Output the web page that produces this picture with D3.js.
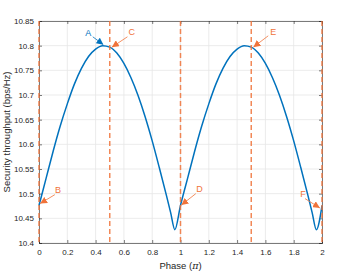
<!DOCTYPE html>
<meta charset="utf-8">
<style>
body { margin: 0; background: #fff; }
text { font-family: "Liberation Sans", Arial, sans-serif; fill: #262626; }
.grid line { stroke: #e6e6e6; stroke-width: 0.8px; }
</style>
<svg width="357" height="274"></svg>
<script src="https://d3js.org/d3.v7.min.js"></script>
<script>

// phase (in units of pi) and throughput
var phase = [0, 0.05, 0.10, 0.15, 0.20, 0.25, 0.30, 0.35, 0.40, 0.45, 0.50, 0.55, 0.60, 0.65, 0.70, 0.75, 0.80, 0.85, 0.90, 0.93, 0.96,
             1.00, 1.05, 1.10, 1.15, 1.20, 1.25, 1.30, 1.35, 1.40, 1.45, 1.50, 1.55, 1.60, 1.65, 1.70, 1.75, 1.80, 1.85, 1.90, 1.93, 1.96, 2.00];
var throughput = [10.476, 10.531, 10.586, 10.637, 10.682, 10.722, 10.754, 10.778, 10.793, 10.800, 10.797, 10.785, 10.764, 10.735, 10.699, 10.656, 10.607, 10.553, 10.497, 10.462, 10.427,
                  10.476, 10.531, 10.586, 10.637, 10.682, 10.722, 10.754, 10.778, 10.793, 10.800, 10.797, 10.785, 10.764, 10.735, 10.699, 10.656, 10.607, 10.553, 10.497, 10.462, 10.427, 10.476];

var markers = [0, 0.5, 1, 1.5, 2];
var xTicks = [0, 0.2, 0.4, 0.6, 0.8, 1, 1.2, 1.4, 1.6, 1.8, 2];
var yTicks = [10.4, 10.45, 10.5, 10.55, 10.6, 10.65, 10.7, 10.75, 10.8, 10.85];

// annotation labels: [label, colour, text x, text y, from x, from y, to x, to y] in data units
var notes = [
  ["A", "blue",   0.348, 10.826, 0.38, 10.818, 0.455, 10.802],
  ["C", "orange", 0.655, 10.827, 0.625, 10.818, 0.515, 10.797],
  ["E", "orange", 1.655, 10.827, 1.620, 10.820, 1.515, 10.797],
  ["B", "orange", 0.135, 10.508, 0.112, 10.498, 0.008, 10.480],
  ["D", "orange", 1.135, 10.510, 1.108, 10.500, 1.006, 10.477],
  ["F", "orange", 1.865, 10.500, 1.880, 10.490, 1.985, 10.471]
];

var svg = d3.select("svg"),
    margin = {top: 21, right: 35, bottom: 31, left: 39},
    width = 357 - margin.left - margin.right,
    height = 274 - margin.top - margin.bottom;

var x = d3.scaleLinear().domain([0, 2]).range([0, width]);
var y = d3.scaleLinear().domain([10.4, 10.85]).range([height, 0]);

var g = svg.append("g").attr("transform", "translate(" + margin.left + "," + margin.top + ")");

var defs = svg.append("defs");
[["blue", "#0072bd"], ["orange", "#f0733a"]].forEach(function(c) {
  defs.append("marker")
      .attr("id", "head-" + c[0])
      .attr("viewBox", "0 0 10 10")
      .attr("refX", 10).attr("refY", 5)
      .attr("markerWidth", 7).attr("markerHeight", 7)
      .attr("markerUnits", "userSpaceOnUse")
      .attr("orient", "auto")
    .append("path")
      .attr("d", "M0,0L10,5L0,10z")
      .style("fill", c[1]);
});

// grid
g.append("g").attr("class", "grid")
  .selectAll("line").data(xTicks).enter().append("line")
    .attr("x1", x).attr("x2", x).attr("y1", 0).attr("y2", height);
g.append("g").attr("class", "grid")
  .selectAll("line").data(yTicks).enter().append("line")
    .attr("y1", y).attr("y2", y).attr("x1", 0).attr("x2", width);

// axes
g.append("g").attr("transform", "translate(0," + height + ")")
    .call(d3.axisBottom(x).tickValues(xTicks).tickSize(-3).tickPadding(6).tickFormat(d3.format("")));
g.append("g")
    .call(d3.axisLeft(y).tickValues(yTicks).tickSize(-3).tickPadding(5).tickFormat(d3.format("")));
g.append("g")
    .call(d3.axisTop(x).tickValues(xTicks).tickSize(-3).tickFormat(""));
g.append("g").attr("transform", "translate(" + width + ",0)")
    .call(d3.axisRight(y).tickValues(yTicks).tickSize(-3).tickFormat(""));

g.selectAll(".domain").style("stroke", "#262626").style("stroke-width", 0.6);
g.selectAll(".tick line").style("stroke", "#262626").style("stroke-width", 0.6);
g.selectAll(".tick text").style("font-size", "8px").style("fill", "#262626");

// curve
var line = d3.line()
    .x(function(d, i) { return x(phase[i]); })
    .y(function(d) { return y(d); })
    .curve(d3.curveMonotoneX);

g.append("path")
    .datum(throughput)
    .attr("d", line)
    .style("fill", "none")
    .style("stroke", "#0072bd")
    .style("stroke-width", 1.5);

// dashed phase markers
g.selectAll(".marker").data(markers).enter().append("line")
    .attr("class", "marker")
    .attr("x1", x).attr("x2", x).attr("y1", 0).attr("y2", height)
    .style("stroke", "#f0733a")
    .style("stroke-opacity", 0.85)
    .style("stroke-width", 1.5)
    .style("stroke-dasharray", "5,3");

// annotations
var ann = g.selectAll(".note").data(notes).enter().append("g").attr("class", "note");
ann.append("line")
    .attr("x1", function(d) { return x(d[4]); })
    .attr("y1", function(d) { return y(d[5]); })
    .attr("x2", function(d) { return x(d[6]); })
    .attr("y2", function(d) { return y(d[7]); })
    .style("stroke", function(d) { return d[1] == "blue" ? "#0072bd" : "#f0733a"; })
    .style("stroke-width", 0.8)
    .attr("marker-end", function(d) { return "url(#head-" + d[1] + ")"; });
ann.append("text")
    .attr("x", function(d) { return x(d[2]); })
    .attr("y", function(d) { return y(d[3]); })
    .attr("text-anchor", "middle")
    .attr("dy", "0.35em")
    .style("font-size", "9px")
    .style("fill", function(d) { return d[1] == "blue" ? "#0072bd" : "#f0733a"; })
    .text(function(d) { return d[0]; });

// axis labels
svg.append("text")
    .attr("x", margin.left + width / 2)
    .attr("y", 269)
    .attr("text-anchor", "middle")
    .style("font-size", "9.5px")
    .html("Phase (<tspan font-family='DejaVu Serif' font-style='italic'>π</tspan>)");

svg.append("text")
    .attr("transform", "translate(10," + (margin.top + height / 2) + ") rotate(-90)")
    .attr("text-anchor", "middle")
    .style("font-size", "9.5px")
    .text("Security throughput (bps/Hz)");

</script>
